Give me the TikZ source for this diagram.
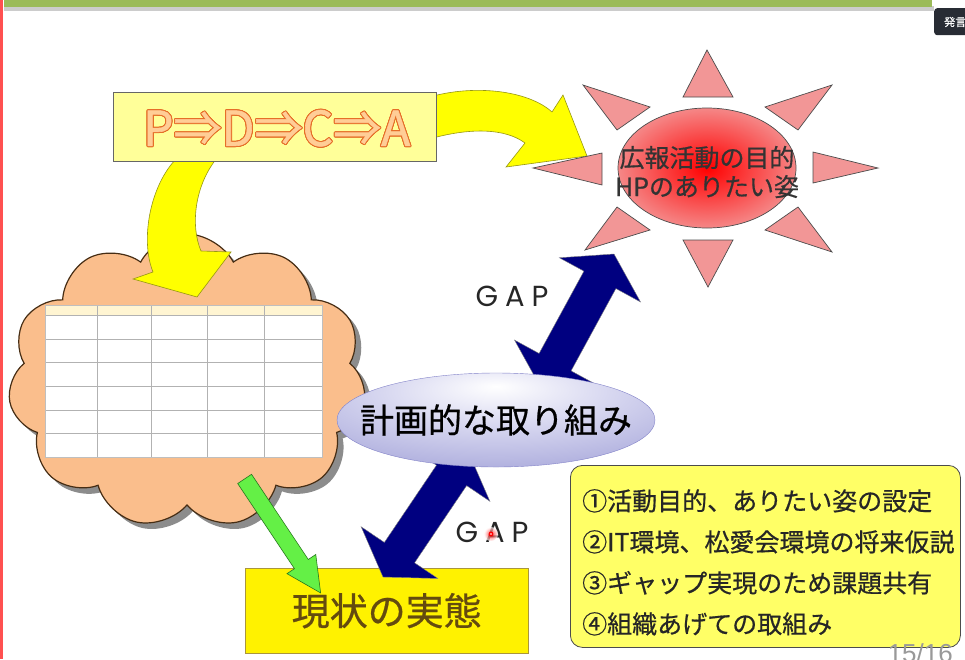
\documentclass[tikz,border=0pt]{standalone}
\usepackage{fontspec}
\setmainfont{Noto Sans CJK JP}[FakeBold=0.6]
\newfontfamily\jpbold{Noto Sans CJK JP}[FakeBold=1.2]
\newfontfamily\gapfont{Poppins}
\newfontfamily\numfont{Liberation Sans}
\usepackage{contour}
\contourlength{1pt}
\usetikzlibrary{calc}
\usetikzlibrary{shapes.geometric}
\usetikzlibrary{shapes.symbols}
\usetikzlibrary{shapes.arrows}
\usetikzlibrary{shadows}

\definecolor{barGreen}{RGB}{155,187,89}
\definecolor{edgeRed}{RGB}{255,80,80}
\definecolor{pdcaFill}{RGB}{255,255,153}
\definecolor{pdcaLetter}{RGB}{255,205,150}
\definecolor{pdcaEdge}{RGB}{230,110,40}
\definecolor{cloudFill}{RGB}{250,190,140}
\definecolor{cloudEdge}{RGB}{70,45,20}
\definecolor{rayFill}{RGB}{242,150,150}
\definecolor{sunEdge}{RGB}{245,135,135}
\definecolor{gapBlue}{RGB}{0,0,128}
\definecolor{planLight}{RGB}{215,215,240}
\definecolor{planFill}{RGB}{160,160,215}
\definecolor{planEdge}{RGB}{130,130,200}
\definecolor{nowText}{RGB}{100,75,15}
\definecolor{nowEdge}{RGB}{170,150,60}
\definecolor{listFill}{RGB}{255,255,102}
\definecolor{arrowYellow}{RGB}{255,255,0}
\definecolor{yEdge}{RGB}{150,150,20}
\definecolor{arrowGreen}{RGB}{100,240,70}
\definecolor{greenEdge}{RGB}{40,120,30}
\definecolor{headerFill}{RGB}{255,245,210}
\definecolor{memoFill}{RGB}{40,44,52}

\pgfdeclareradialshading{planglow}{\pgfpoint{0bp}{18bp}}{color(0bp)=(white); color(18bp)=(planLight); color(45bp)=(planFill); color(100bp)=(planFill)}

\begin{document}
\begin{tikzpicture}[x=1pt,y=-1pt,
    yarrow/.style={fill=arrowYellow,draw=yEdge,line width=0.6pt},
    ray/.style={fill=rayFill,draw=black!70,line width=0.7pt},
    gaparrow/.style={double arrow,draw=black!50,fill=gapBlue,line width=0.4pt,
        inner xsep=0pt,inner ysep=18pt,double arrow head extend=28pt,
        double arrow tip angle=115},
    gaplabel/.style={font=\gapfont\fontsize{29}{30}\selectfont,text=black!85},
    greenarrow/.style={single arrow,draw=greenEdge,fill=arrowGreen,line width=0.6pt,
        inner xsep=0pt,inner ysep=8pt,single arrow head extend=9pt,
        single arrow tip angle=53}]
    \useasboundingbox (0,0) rectangle (965,659);

    % slide frame
    \fill[edgeRed] (0,0) rectangle (2.5,659);
    \fill[black!20] (4,6) rectangle (934,11);
    \fill[barGreen] (4,0) rectangle (932,7);
    \node[fill=memoFill,rounded corners=3pt,minimum width=34,minimum height=27,
        anchor=north west,inner sep=0] (memo) at (934,8) {};
    \node[anchor=west,text=white,font=\fontsize{11}{12}\selectfont,inner sep=0]
        (memotext) at (944,22) {発言};

    % cloud with sheet
    \node[cloud,cloud puffs=11,cloud puff arc=125,aspect=1.25,draw=cloudEdge,
        fill=cloudFill,line width=1.2pt,minimum width=358,minimum height=294,
        drop shadow={shadow xshift=6pt,shadow yshift=-6pt,fill=black!45,opacity=1}]
        (cloud) at (187,381) {};
    \node[draw=black!25,fill=white,minimum width=277,minimum height=152,
        anchor=north west,inner sep=0] (sheet) at (45,305) {};
    \fill[headerFill] (sheet.north west) rectangle ($(sheet.north east)+(0,10)$);
    \foreach \x in {52,106,162,219}
        \draw[black!30] ($(sheet.north west)+(\x,0)$) -- ($(sheet.south west)+(\x,0)$);
    \foreach \y in {10,33.7,57.3,81,104.7,128.3}
        \draw[black!30] ($(sheet.north west)+(0,\y)$) -- ($(sheet.north east)+(0,\y)$);
    \draw[black!25] (sheet.north west) rectangle (sheet.south east);

    % PDCA box and its curved arrows
    \coordinate (pdcaNE) at (436,92);
    \coordinate (pdcaSW) at (113,161);
    \draw[yarrow] ($(pdcaNE)+(-3,4)$) .. controls (480,84) and (530,92) .. (552,112)
        -- (563,95) -- (587,156) -- (506,167) -- (525,143)
        .. controls (505,128) and (470,128) .. ($(pdcaNE)+(-3,46)$) -- cycle;
    \draw[yarrow] ($(pdcaSW)+(64,-3)$) .. controls (150,185) and (140,240) .. (153,272)
        -- (133,279) -- (197,297) -- (231,252) -- (201,251)
        .. controls (190,225) and (195,185) .. ($(pdcaSW)+(104,-3)$) -- cycle;
    \node[draw=black!60,fill=pdcaFill,minimum width=323,minimum height=69,
        anchor=north west,inner sep=0] (pdca) at (113,92) {};
    \node[font=\jpbold\fontsize{48}{50}\selectfont,inner sep=0] (pdcatext)
        at ($(pdca.center)+(2,2)$) {\textcolor{pdcaLetter}{\contour{pdcaEdge}{P⇒D⇒C⇒A}}};

    % sun
    \node[ellipse,draw=black!70,line width=0.7pt,inner color=red,outer color=sunEdge,
        minimum width=178,minimum height=120,inner sep=0] (sun) at (707,168) {};
    \foreach \ax/\ay/\bx/\by/\cx/\cy in {-24/-71/0/-118/26/-71, -24/72/26/72/1/119,
            -105/-15/-105/17/-174/0, 106/-16/106/15/171/0,
            -124/-83/-57/-61/-90/-38, 125/-83/58/-61/91/-38,
            -90/39/-57/62/-122/82, 91/39/58/62/125/84}
        \draw[ray] ($(sun.center)+(\ax,\ay)$) -- ($(sun.center)+(\bx,\by)$)
            -- ($(sun.center)+(\cx,\cy)$) -- cycle;
    \node[align=center,font=\fontsize{25}{29}\selectfont,text=black!80,inner sep=0]
        (goal) at ($(sun.center)+(0,4)$) {広報活動の目的\\HPのありたい姿};

    % current state
    \node[draw=nowEdge,fill=yellow,minimum width=283,minimum height=85,inner sep=0,
        anchor=north west,font=\fontsize{38}{40}\selectfont,text=nowText]
        (now) at (245,568) {現状の実態};

    % gap arrows
    \coordinate (gapUpA) at (614,254);
    \coordinate (gapUpB) at (541,388);
    \coordinate (gapLowA) at (468,451);
    \coordinate (gapLowB) at (383,577);
    \path let \p1=($(gapUpA)-(gapUpB)$), \n1={atan2(\y1,\x1)}, \n2={veclen(\x1,\y1)} in
        node[gaparrow,rotate=\n1,minimum height=\n2] (gapup) at ($(gapUpA)!0.5!(gapUpB)$) {};
    \path let \p1=($(gapLowA)-(gapLowB)$), \n1={atan2(\y1,\x1)}, \n2={veclen(\x1,\y1)} in
        node[gaparrow,rotate=\n1,minimum height=\n2] (gaplow) at ($(gapLowA)!0.5!(gapLowB)$) {};
    \node[gaplabel] (gapuptext) at (512,296) {G\hspace{7pt}A\hspace{7pt}P};
    \node[gaplabel] (gaplowtext) at (492,532) {G\hspace{7pt}A\hspace{7pt}P};
    \shade[inner color=red,outer color=white,opacity=0.7] (491,534) circle (7);
    \fill[red] (491,534) circle (2.4);
    \fill[white] (491,534) circle (0.8);

    % plan
    \node[ellipse,draw=planEdge,shading=planglow,
        minimum width=318,minimum height=94,inner sep=0] (plan) at (496,420) {};
    \node[font=\fontsize{34}{36}\selectfont,inner sep=0] (plantext) at (plan.center) {計画的な取り組み};

    % green arrow
    \coordinate (greenA) at (240,472);
    \coordinate (greenB) at (316,586);
    \path let \p1=($(greenB)-(greenA)$), \n1={atan2(\y1,\x1)}, \n2={veclen(\x1,\y1)} in
        node[greenarrow,rotate=\n1,minimum height=\n2] (toNow) at ($(greenA)!0.5!(greenB)$) {};

    % list of steps
    \node[draw=black!70,fill=listFill,rounded corners=12pt,line width=0.8pt,
        minimum width=390,minimum height=182,anchor=north west,inner sep=0]
        (steps) at (570,465) {};
    \node[anchor=north west,align=left,font=\fontsize{25}{41}\selectfont,text=black!85,
        inner sep=0] (steptext) at ($(steps.north west)+(12,24)$)
        {①活動目的、ありたい姿の設定\\②IT環境、松愛会環境の将来仮説\\③ギャップ実現のため課題共有\\④組織あげての取組み};

    \node[anchor=north east,font=\numfont\fontsize{26}{28}\selectfont,text=black!40,
        inner sep=0] (pageno) at (953,643) {15/16};
\end{tikzpicture}
\end{document}
